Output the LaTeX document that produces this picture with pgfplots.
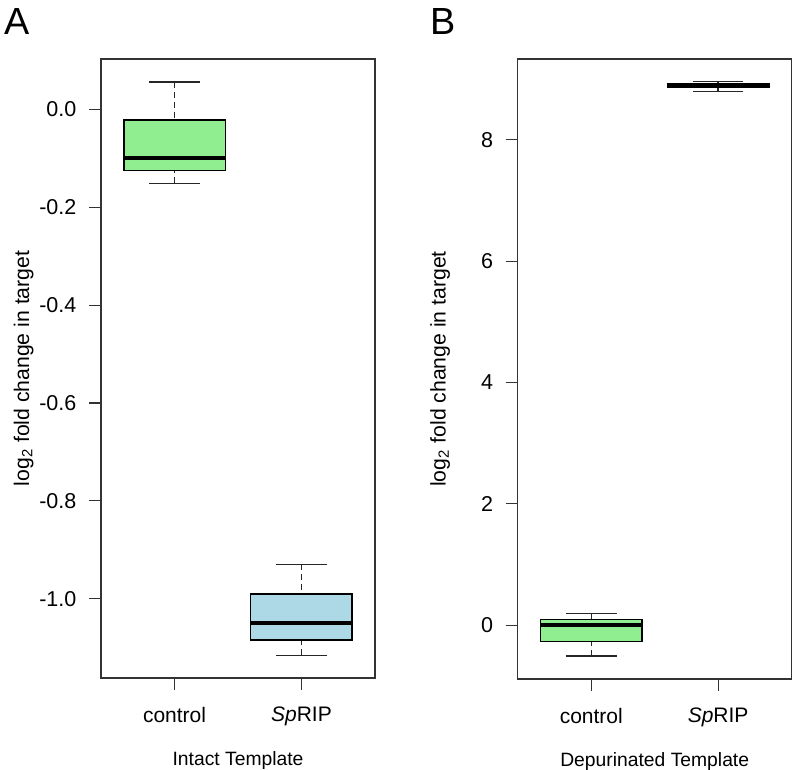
\documentclass[border=0pt]{standalone}
\usepackage{fontspec}
\setmainfont{Liberation Sans}
\usepackage{pgfplots}
\pgfplotsset{compat=1.18}
\usepgfplotslibrary{statistics}
\definecolor{lgreen}{HTML}{90EE90}
\definecolor{lblue}{HTML}{ADD8E6}
\definecolor{frame}{HTML}{333333}
\pgfplotsset{
  rbox/.style={
    scale only axis,
    width=137pt,
    xmin=0.42, xmax=2.58,
    xtick={1,2},
    xticklabels={control,\textit{Sp}RIP},
    axis line style={draw=frame, line width=0.65pt},
    tick style={draw=frame, line width=0.6pt},
    tick align=outside,
    major tick length=6pt,
    xtick pos=lower, ytick pos=left,
    /pgf/number format/assume math mode=true,
    yticklabel style={font=\fontsize{10.75}{12}\selectfont, inner sep=0pt, anchor=east, xshift=-6.15pt},
    xticklabel style={font=\fontsize{10.5}{12}\selectfont, inner sep=0pt, anchor=north, yshift=-8.35pt},
    xlabel style={font=\fontsize{9.65}{11}\selectfont, inner sep=0pt, at={(axis description cs:0.5,0)}, anchor=north, yshift=-36.35pt},
    ylabel style={font=\fontsize{10.6}{12}\selectfont, inner sep=0pt, at={(axis description cs:0,0.5)}, anchor=base, yshift=36pt},
    ylabel={log\textsubscript{2} fold change in target},
    boxplot/draw direction=y,
    boxplot/every box/.style={draw=black, line width=0.7pt},
    boxplot/every median/.style={draw=black, line width=2pt},
    boxplot/every whisker/.style={draw=black!85, line width=0.65pt},
    boxplot/draw/lower whisker/.code={%
      \draw[/pgfplots/boxplot/every whisker/.try, dash pattern=on 3pt off 2pt]
        (boxplot cs:\pgfplotsboxplotvalue{lower whisker}) --
        (boxplot cs:\pgfplotsboxplotvalue{lower quartile});
      \draw[/pgfplots/boxplot/every whisker/.try]
        (boxplot whisker cs:\pgfplotsboxplotvalue{lower whisker},0) --
        (boxplot whisker cs:\pgfplotsboxplotvalue{lower whisker},1);
    },
    boxplot/draw/upper whisker/.code={%
      \draw[/pgfplots/boxplot/every whisker/.try, dash pattern=on 3pt off 2pt]
        (boxplot cs:\pgfplotsboxplotvalue{upper whisker}) --
        (boxplot cs:\pgfplotsboxplotvalue{upper quartile});
      \draw[/pgfplots/boxplot/every whisker/.try]
        (boxplot whisker cs:\pgfplotsboxplotvalue{upper whisker},0) --
        (boxplot whisker cs:\pgfplotsboxplotvalue{upper whisker},1);
    },
  }
}
\begin{document}
\begin{tikzpicture}
\path[use as bounding box] (0,0) rectangle (396.5pt,385pt);
\node[anchor=north west, inner sep=0pt, font=\fontsize{18.9}{20}\selectfont] at (2pt,381pt) {A};
\node[anchor=north west, inner sep=0pt, font=\fontsize{18.9}{20}\selectfont] at (215pt,381pt) {B};
\begin{axis}[rbox, at={(50.5pt,46pt)}, anchor=south west, height=309.5pt,
  ymin=-1.162, ymax=0.103,
  ytick={-1,-0.8,-0.6,-0.4,-0.2,0},
  yticklabels={-1.0,-0.8,-0.6,-0.4,-0.2,0.0},
  xlabel={Intact Template}]
\addplot[boxplot prepared={draw position=1, lower whisker=-0.151, lower quartile=-0.125,
  median=-0.100, upper quartile=-0.022, upper whisker=0.056, box extend=0.8, whisker extend=0.4},
  fill=lgreen] coordinates {};
\addplot[boxplot prepared={draw position=2, lower whisker=-1.116, lower quartile=-1.084,
  median=-1.050, upper quartile=-0.990, upper whisker=-0.930, box extend=0.8, whisker extend=0.4},
  fill=lblue] coordinates {};
\end{axis}
\begin{axis}[rbox, at={(258.85pt,45.5pt)}, anchor=south west, height=310pt,
  ymin=-0.885, ymax=9.33,
  ytick={0,2,4,6,8},
  yticklabels={0,2,4,6,8},
  xlabel={Depurinated Template}]
\addplot[boxplot prepared={draw position=1, lower whisker=-0.506, lower quartile=-0.264,
  median=0.0, upper quartile=0.092, upper whisker=0.19, box extend=0.8, whisker extend=0.4},
  fill=lgreen] coordinates {};
\addplot[boxplot prepared={draw position=2, lower whisker=8.80, lower quartile=8.86,
  median=8.90, upper quartile=8.93, upper whisker=8.955, box extend=0.8, whisker extend=0.4},
  fill=lgreen] coordinates {};
\end{axis}
\end{tikzpicture}
\end{document}
